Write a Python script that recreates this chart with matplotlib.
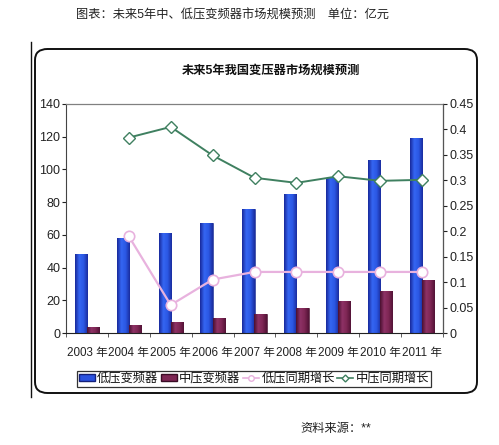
import matplotlib
matplotlib.use('Agg')
import matplotlib.pyplot as plt
import numpy as np
from matplotlib.patches import FancyBboxPatch, Patch
from matplotlib.lines import Line2D
from matplotlib.ticker import FuncFormatter, FixedLocator
from matplotlib.colors import LinearSegmentedColormap

plt.rcParams['font.family'] = ['Liberation Sans', 'Noto Sans CJK SC', 'DejaVu Sans']

# ---- data ----
years = ['2003 年', '2004 年', '2005 年', '2006 年', '2007 年', '2008 年', '2009 年', '2010 年', '2011 年']
low_volt = [48, 58, 61, 67, 76, 85, 95, 106, 119]
mid_volt = [3.5, 4.7, 6.9, 9.0, 11.6, 15.1, 19.6, 25.7, 32.6]
low_growth = [np.nan, 0.19, 0.055, 0.105, 0.12, 0.12, 0.12, 0.12, 0.12]
mid_growth = [np.nan, 0.384, 0.405, 0.349, 0.305, 0.295, 0.308, 0.299, 0.301]
series_names = ['低压变频器', '中压变频器', '低压同期增长', '中压同期增长']
left_ticks = [0, 20, 40, 60, 80, 100, 120, 140]
right_ticks = [0, 0.05, 0.1, 0.15, 0.2, 0.25, 0.3, 0.35, 0.4, 0.45]

W, H = 499, 445
fig = plt.figure(figsize=(W / 100, H / 100), dpi=100)
fig.patch.set_facecolor('white')

def fx(px):
    return px / W

def fy(py):
    return 1 - py / H

ax = fig.add_axes([fx(66), fy(333), fx(443) - fx(66), fy(104) - fy(333)])
x = np.arange(len(years))
w = 0.29

blue = '#2a52e0'
maroon = '#7e2654'
bars1 = ax.bar(x - w / 2, low_volt, w, color=blue, edgecolor='#14207a', linewidth=0.4, zorder=2)
bars2 = ax.bar(x + w / 2, mid_volt, w, color=maroon, edgecolor='#3a0c25', linewidth=0.4, zorder=2)

cmap_b = LinearSegmentedColormap.from_list('b', ['#18289a', '#3566f2', '#2b58e4', '#1a2c9e'])
cmap_m = LinearSegmentedColormap.from_list('m', ['#4a1030', '#8e3266', '#7e2654', '#521236'])
grad = np.linspace(0, 1, 64).reshape(1, -1)
for bars, cm in ((bars1, cmap_b), (bars2, cmap_m)):
    for b in bars:
        x0, y0 = b.get_x(), b.get_y()
        im = ax.imshow(grad, extent=[x0, x0 + b.get_width(), y0, y0 + b.get_height()],
                       aspect='auto', cmap=cm, zorder=2.1, interpolation='bilinear')
        im.set_clip_path(b)

ax.set_xlim(-0.5, len(years) - 0.5)
ax.set_ylim(0, 140)
ax.yaxis.set_major_locator(FixedLocator(left_ticks))
ax.tick_params(axis='y', direction='out', length=3, pad=1, labelsize=9, colors='#222222')
ax.set_xticks(x)
ax.set_xticklabels(years)
ax.tick_params(axis='x', which='major', length=0, pad=10, labelsize=8.4, colors='#222222')
ax.xaxis.set_minor_locator(FixedLocator(np.arange(-0.5, len(years), 1.0)))
ax.tick_params(axis='x', which='minor', direction='out', length=3, color='#444444')

for s in ('top', 'right'):
    ax.spines[s].set_color('#808080')
    ax.spines[s].set_linewidth(0.9)
ax.spines['left'].set_color('#444444')
ax.spines['bottom'].set_color('#222222')

ax2 = ax.twinx()
ax2.set_ylim(0, 0.45)
ax2.yaxis.set_major_locator(FixedLocator(right_ticks))
ax2.yaxis.set_major_formatter(FuncFormatter(lambda v, p: '%g' % round(v, 2)))
ax2.tick_params(axis='y', direction='out', length=3, pad=2, labelsize=9, colors='#222222')
for s in ('top', 'left', 'bottom'):
    ax2.spines[s].set_visible(False)
ax2.spines['right'].set_color('#555555')

pink = '#e8b2de'
green = '#3f8060'
l1, = ax2.plot(x, low_growth, color=pink, lw=1.6, marker='o', ms=7.5, mfc='white', mec=pink,
               mew=1.2, zorder=3)
l2, = ax2.plot(x, mid_growth, color=green, lw=1.4, marker='D', ms=6, mfc='white', mec=green,
               mew=1.0, zorder=3)

# legend
h1 = Patch(facecolor=blue, edgecolor='#14207a')
h2 = Patch(facecolor=maroon, edgecolor='#3a0c25')
lh1 = Line2D([], [], color=pink, lw=1.2, marker='o', ms=4, mfc='white', mec=pink)
lh2 = Line2D([], [], color=green, lw=1.2, marker='D', ms=3.5, mfc='white', mec=green)
leg = fig.legend([h1, h2, lh1, lh2], series_names, ncol=4, loc='center',
                 bbox_to_anchor=(fx(254), fy(379)), fontsize=8.8, frameon=True, fancybox=False,
                 edgecolor='black', handlelength=1.3, handleheight=0.5, handletextpad=0.2,
                 columnspacing=0.2, borderpad=0.15, borderaxespad=0)
leg.get_frame().set_linewidth(0.9)
for t in leg.get_texts():
    t.set_color('#111111')

# rounded chart frame
frame = FancyBboxPatch((fx(35), fy(393)), fx(477) - fx(35), fy(49) - fy(393),
                       boxstyle='round,pad=0,rounding_size=0.025', transform=fig.transFigure,
                       fill=False, edgecolor='#111111', linewidth=1.4, zorder=0)
fig.add_artist(frame)
fig.add_artist(Line2D([fx(31), fx(31)], [fy(42), fy(397)], transform=fig.transFigure,
                      color='#111111', lw=1.0))

fig.text(fx(233), fy(15), '图表：未来5年中、低压变频器市场规模预测　单位：亿元', ha='center', va='center',
         fontsize=8.8, color='#222222')
fig.text(fx(271), fy(71), '未来5年我国变压器市场规模预测', ha='center', va='center', fontsize=8.8,
         fontweight='bold', color='#111111')
fig.text(fx(300), fy(429), '资料来源：**', ha='left', va='center', fontsize=8.8, color='#222222')

fig.savefig('out.png', dpi=100, facecolor='white')
